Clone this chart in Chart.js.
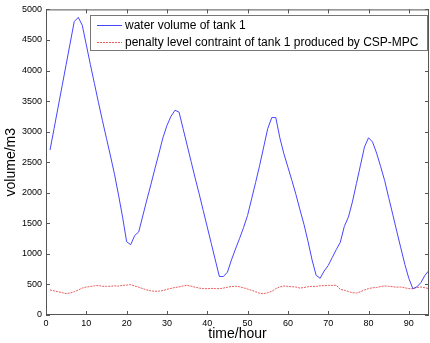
<!DOCTYPE html>
<html>
<head>
<meta charset="utf-8">
<script src="https://cdn.jsdelivr.net/npm/chart.js@4"></script>
<style>
  html, body { margin: 0; padding: 0; background: #fff; }
  #wrap { width: 430px; height: 343px; }
</style>
</head>
<body>
<div id="wrap"><canvas id="tankChart" width="430" height="343"></canvas></div>
<script>
// hours 1..95
const hours = Array.from({ length: 95 }, (_, i) => i + 1);

const waterVolume = [
    2700, 3050, 3400, 3750, 4100, 4450, 4800, 4870, 4740, 4420,
    4100, 3790, 3480, 3180, 2890, 2600, 2300, 1960, 1600, 1200,
    1150, 1300, 1360, 1620, 1880, 2130, 2390, 2640, 2900, 3100,
    3250, 3350, 3320, 3050, 2780, 2510, 2240, 1980, 1710, 1440,
    1170, 900, 630, 630, 700, 900, 1080, 1250, 1430, 1630,
    1900, 2170, 2450, 2750, 3050, 3230, 3230, 2900, 2640, 2420,
    2200, 1970, 1720, 1480, 1200, 900, 650, 600, 720, 810,
    940, 1070, 1190, 1450, 1600, 1850, 2150, 2450, 2750, 2900,
    2830, 2650, 2430, 2200, 1920, 1650, 1370, 1100, 830, 600,
    430, 460, 530, 650, 730
];

const penaltyLevel = [
    410, 395, 380, 365, 350, 360, 380, 410, 440, 458,
    465, 478, 482, 470, 468, 470, 478, 472, 485, 490,
    497, 475, 455, 432, 410, 395, 388, 390, 400, 420,
    435, 450, 460, 475, 486, 470, 455, 440, 432, 430,
    435, 432, 430, 440, 455, 465, 470, 462, 445, 425,
    404, 380, 355, 350, 365, 388, 430, 460, 475, 468,
    462, 458, 440, 450, 462, 470, 468, 478, 480, 485,
    484, 488, 420, 405, 385, 365, 360, 380, 410, 432,
    445, 450, 465, 475, 470, 462, 455, 458, 445, 432,
    430, 450, 458, 445, 432
];

const seriesLabels = [
    'water volume of tank 1',
    'penalty level contraint of tank 1 produced by CSP-MPC'
];

const xTicks = [0, 10, 20, 30, 40, 50, 60, 70, 80, 90];

const axisColor = '#555';
const fontFamily = '"Liberation Sans", Arial, sans-serif';

// MATLAB-like box with inward ticks on all four sides
const boxTicks = {
    id: 'boxTicks',
    afterDraw(chart) {
        const { ctx, chartArea: a, scales } = chart;
        ctx.save();
        ctx.strokeStyle = axisColor;
        ctx.lineWidth = 1;
        ctx.strokeRect(a.left + 0.5, a.top + 0.5, a.right - a.left - 1, a.bottom - a.top - 1);
        ctx.beginPath();
        scales.x.ticks.forEach(t => {
            const x = Math.round(scales.x.getPixelForValue(t.value)) + 0.5;
            ctx.moveTo(x, a.bottom); ctx.lineTo(x, a.bottom - 4);
            ctx.moveTo(x, a.top); ctx.lineTo(x, a.top + 4);
        });
        scales.y.ticks.forEach(t => {
            const y = Math.round(scales.y.getPixelForValue(t.value)) + 0.5;
            ctx.moveTo(a.left, y); ctx.lineTo(a.left + 4, y);
            ctx.moveTo(a.right, y); ctx.lineTo(a.right - 4, y);
        });
        ctx.stroke();
        ctx.restore();
    }
};

// legend box in the upper right corner, like the matlab one
const boxLegend = {
    id: 'boxLegend',
    afterDraw(chart) {
        const { ctx } = chart;
        const x0 = 90, y0 = 15, w = 338, h = 36;
        ctx.save();
        ctx.fillStyle = '#fff';
        ctx.fillRect(x0, y0, w, h);
        ctx.strokeStyle = '#777';
        ctx.lineWidth = 1;
        ctx.strokeRect(x0 + 0.5, y0 + 0.5, w - 1, h - 1);
        ctx.font = '12px ' + fontFamily;
        ctx.textBaseline = 'middle';
        chart.data.datasets.forEach((ds, i) => {
            const y = y0 + 10.5 + i * 17;
            ctx.strokeStyle = ds.borderColor;
            ctx.setLineDash(ds.borderDash || []);
            ctx.beginPath();
            ctx.moveTo(97, y); ctx.lineTo(122, y);
            ctx.stroke();
            ctx.setLineDash([]);
            ctx.fillStyle = '#000';
            ctx.fillText(ds.label, 125, y);
        });
        ctx.restore();
    }
};

new Chart(document.getElementById('tankChart').getContext('2d'), {
    type: 'line',
    data: {
        labels: hours,
        datasets: [
            {
                label: seriesLabels[0],
                data: hours.map((h, i) => ({ x: h, y: waterVolume[i] })),
                borderColor: 'rgb(70, 70, 255)',
                borderWidth: 1,
                pointRadius: 0,
                tension: 0,
                fill: false
            },
            {
                label: seriesLabels[1],
                data: hours.map((h, i) => ({ x: h, y: penaltyLevel[i] })),
                borderColor: 'rgb(235, 90, 90)',
                borderWidth: 1,
                borderDash: [2, 1],
                pointRadius: 0,
                tension: 0,
                fill: false
            }
        ]
    },
    options: {
        responsive: false,
        animation: false,
        layout: { padding: { top: 9, right: 1, left: 3, bottom: 0 } },
        plugins: {
            legend: { display: false },
            tooltip: { enabled: false }
        },
        scales: {
            x: {
                type: 'linear',
                min: 0,
                max: 95,
                border: { display: false },
                grid: { display: false, drawTicks: false },
                afterBuildTicks(scale) {
                    scale.ticks = xTicks.map(v => ({ value: v }));
                },
                ticks: {
                    padding: 3,
                    color: '#000',
                    maxRotation: 0,
                    callback: v => String(v),
                    font: { family: fontFamily, size: 9 }
                },
                title: {
                    display: true,
                    text: 'time/hour',
                    color: '#000',
                    padding: { top: 0, bottom: 0 },
                    font: { family: fontFamily, size: 14 }
                },
                afterFit(scale) { scale.height = 28; }
            },
            y: {
                min: 0,
                max: 5000,
                border: { display: false },
                grid: { display: false, drawTicks: false },
                ticks: {
                    stepSize: 500,
                    padding: 4,
                    color: '#000',
                    callback: v => String(v),
                    font: { family: fontFamily, size: 9 }
                },
                title: {
                    display: true,
                    text: 'volume/m3',
                    color: '#000',
                    padding: { top: 0, bottom: 0 },
                    font: { family: fontFamily, size: 14 }
                },
                afterFit(scale) { scale.width = 43; }
            }
        }
    },
    plugins: [boxTicks, boxLegend]
});
</script>
</body>
</html>
